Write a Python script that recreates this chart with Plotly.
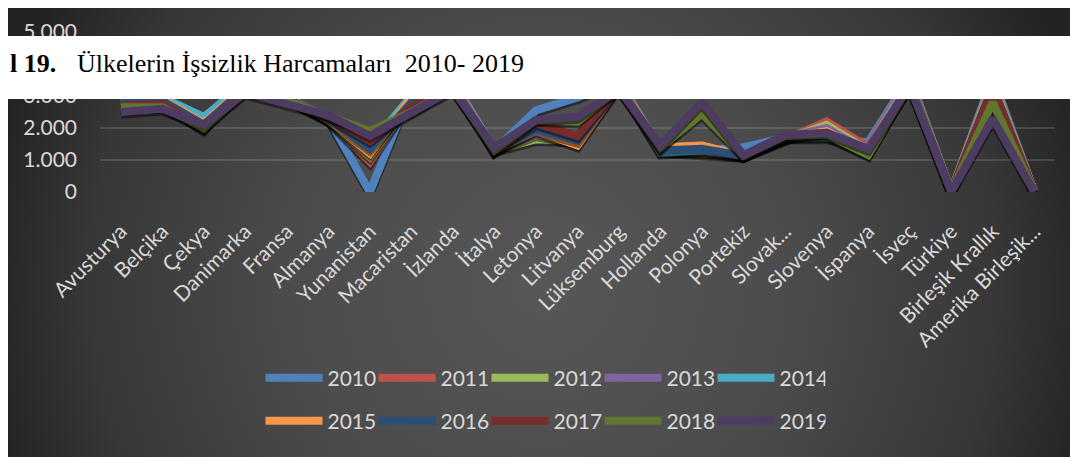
import base64
import plotly.graph_objects as go

countries = ["Avusturya", "Belçika", "Çekya", "Danimarka", "Fransa", "Almanya",
             "Yunanistan", "Macaristan", "İzlanda", "İtalya", "Letonya", "Litvanya",
             "Lüksemburg", "Hollanda", "Polonya", "Portekiz", "Slovak...", "Slovenya",
             "İspanya", "İsveç", "Türkiye", "Birleşik Krallık", "Amerika Birleşik..."]

years = ["2010", "2011", "2012", "2013", "2014", "2015", "2016", "2017", "2018", "2019"]

y2010 = [2900, 2950, 2300, 3500, 2950, 2300, 0, 3200, 3500, 1300, 2550, 2950, 3500, 1300, 1300, 1400, 1700, 1700, 1550, 3600, 0, 3600, 0]
y2011 = [2750, 2800, 1950, 3450, 2950, 2250, 950, 2900, 3450, 1250, 2100, 1700, 3450, 1280, 1200, 1120, 1650, 2200, 1400, 3550, 0, 3550, 0]
y2012 = [2700, 2750, 2000, 3400, 2950, 2250, 1100, 2850, 3400, 1300, 1650, 1600, 3400, 1300, 1250, 1130, 1650, 2100, 1300, 3500, 0, 3500, 0]
y2013 = [2800, 2850, 2250, 3400, 2950, 2300, 1250, 2900, 3400, 1300, 1800, 1550, 3400, 1300, 1300, 1130, 1700, 2000, 1250, 3500, 0, 3450, 0]
y2014 = [2950, 2950, 2350, 3350, 2950, 2250, 1450, 3000, 3350, 1300, 2000, 1500, 3350, 1220, 1300, 1130, 1700, 1850, 1250, 3450, 0, 3400, 0]
y2015 = [2850, 2900, 2150, 3300, 2900, 2250, 1200, 2950, 3300, 1300, 1900, 1450, 3300, 1400, 1450, 1130, 1700, 1900, 1200, 3400, 0, 3350, 0]
y2016 = [2800, 2850, 2100, 3250, 2900, 2300, 1350, 2800, 3300, 1300, 1950, 1600, 3300, 1300, 1350, 1130, 1700, 1750, 1200, 3400, 0, 3300, 0]
y2017 = [2700, 2750, 2000, 3200, 2900, 2350, 1600, 2650, 3300, 1300, 2150, 1750, 3300, 1350, 2650, 1130, 1750, 1850, 1200, 3350, 0, 3200, 0]
y2018 = [2650, 2650, 2000, 3150, 2850, 2400, 1900, 2500, 3250, 1300, 2250, 2200, 3250, 1400, 2450, 1130, 1750, 1800, 1150, 3350, 0, 2800, 0]
y2019 = [2500, 2600, 2100, 3100, 2750, 2400, 1750, 2450, 3200, 1380, 2250, 2350, 3200, 1450, 2800, 1150, 1780, 1850, 1350, 3300, 0, 2300, 0]

series = [y2010, y2011, y2012, y2013, y2014, y2015, y2016, y2017, y2018, y2019]
colors = ["#4F81BD", "#C0504D", "#9BBB59", "#8064A2", "#4BACC6",
          "#F79646", "#2C4D75", "#772C2A", "#5F7530", "#4D3B62"]

y_ticks = [0, 1000, 2000, 3000, 5000]

caption_num = "l 19."
caption_text = "Ülkelerin İşsizlik Harcamaları  2010- 2019"

# the page body has an 8px margin: figure pixel = page pixel - OFF
OFF = 8
W, H = 1078 - OFF, 457 - OFF
ML, MR, MT, MB = 100 - OFF, W - (1055 - OFF), 32 - OFF, H - (192 - OFF)
PW = W - ML - MR
PH = H - MT - MB


def px_x(p):  # page px -> paper x
    return (p - OFF - ML) / PW


def px_y(p):  # page px -> paper y
    return (H - MB - (p - OFF)) / PH


# radial gradient background (svg data uri) covering the whole figure
bw, bh = W, H
svg = (
    f'<svg xmlns="http://www.w3.org/2000/svg" width="{bw}" height="{bh}" '
    f'viewBox="0 0 {bw} {bh}" preserveAspectRatio="none">'
    '<defs><radialGradient id="g" gradientUnits="userSpaceOnUse" '
    f'cx="{bw*0.5}" cy="{bh*0.62}" r="{bw*0.53}">'
    '<stop offset="0" stop-color="#575757"/>'
    '<stop offset="0.45" stop-color="#4b4b4b"/>'
    '<stop offset="0.8" stop-color="#373737"/>'
    '<stop offset="1" stop-color="#232323"/>'
    '</radialGradient></defs>'
    f'<rect x="0" y="0" width="{bw}" height="{bh}" fill="url(#g)"/></svg>'
)
bg_uri = "data:image/svg+xml;base64," + base64.b64encode(svg.encode()).decode()

SHADOW_DROP = 70  # shadow offset in data units (~2px)

fig = go.Figure()
for i, (yr, vals, col) in enumerate(zip(years, series, colors)):
    lg = "legend" if i < 5 else "legend2"
    fig.add_trace(go.Scatter(
        x=countries, y=[v - SHADOW_DROP for v in vals], mode="lines",
        line=dict(color="rgba(0,0,0,0.45)", width=9),
        showlegend=False, hoverinfo="skip", legend=lg,
    ))
    fig.add_trace(go.Scatter(
        x=countries, y=vals, name=yr, mode="lines",
        line=dict(color=col, width=8),
        legend=lg,
    ))

legend_common = dict(
    orientation="h", xref="container", yref="container",
    x=0.5, xanchor="center", yanchor="middle",
    font=dict(family="Lato", size=21, color="#d9d9d9"),
    bgcolor="rgba(0,0,0,0)", itemwidth=57,
    entrywidth=41, entrywidthmode="pixels",
    traceorder="normal",
)

fig.update_layout(
    width=W, height=H,
    margin=dict(l=ML, r=MR, t=MT, b=MB, autoexpand=False),
    paper_bgcolor="white",
    plot_bgcolor="rgba(0,0,0,0)",
    separators=",.",
    showlegend=True,
    legend=dict(**legend_common, y=1 - (378 - OFF) / H),
    legend2=dict(**legend_common, y=1 - (421 - OFF) / H),
    xaxis=dict(
        type="category", range=[-0.5, len(countries) - 0.5],
        tickangle=-45, showgrid=False, showline=False,
        ticks="", zeroline=False, ticklabelstandoff=22,
        automargin=False,
        tickfont=dict(family="Lato", size=21, color="#d9d9d9"),
    ),
    yaxis=dict(
        range=[0, 5000], tickvals=y_ticks, tickformat=",d",
        showgrid=True, gridcolor="rgba(255,255,255,0.13)", gridwidth=1.5,
        zeroline=False, showline=False, ticks="", ticklabelstandoff=22,
        automargin=False,
        tickfont=dict(family="Lato", size=21, color="#d9d9d9"),
    ),
    images=[dict(
        source=bg_uri, xref="paper", yref="paper",
        x=-ML / PW, y=1 + MT / PH, sizex=bw / PW, sizey=bh / PH,
        xanchor="left", yanchor="top", sizing="stretch", layer="below",
    )],
    shapes=[dict(
        type="rect", xref="paper", yref="paper",
        x0=-ML / PW - 0.05, x1=1 + MR / PW + 0.05, y0=px_y(99), y1=px_y(36),
        fillcolor="white", line=dict(width=0), layer="above",
    )],
    annotations=[
        dict(text=f"<b>{caption_num}</b>", xref="paper", yref="paper",
             x=-ML / PW, y=px_y(64), xanchor="left", yanchor="middle",
             showarrow=False,
             font=dict(family="Liberation Serif", size=26, color="black")),
        dict(text=caption_text, xref="paper", yref="paper",
             x=px_x(75), y=px_y(64), xanchor="left", yanchor="middle",
             showarrow=False,
             font=dict(family="Liberation Serif", size=26, color="black")),
    ],
)

fig.write_html("out.html")
